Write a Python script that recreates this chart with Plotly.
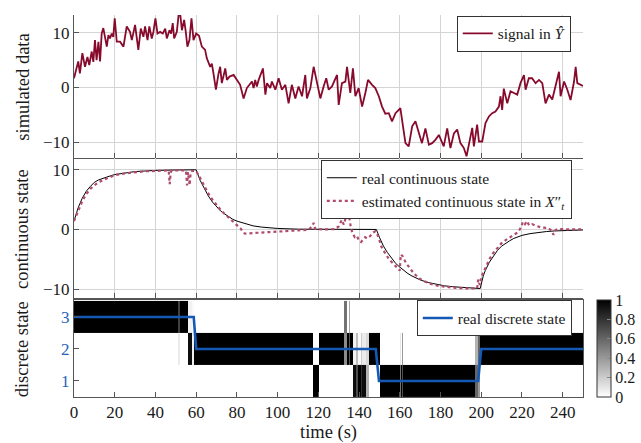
import plotly.graph_objects as go

# ---------------- data ----------------
signal_t = [0, 1.3, 2.1, 2.9, 4.1, 5.4, 6.6, 7.5, 8.7, 9.5, 10.3, 11.1, 12.0, 12.8, 13.6, 14.4, 15.2, 16.1,
            16.9, 17.7, 18.5, 19.3, 20.0, 21.0, 22.6, 24.3, 25.9, 27.5, 28.4, 30.0, 31.6, 32.8, 34.1, 34.9,
            36.1, 37.0, 38.2, 39.0, 40.0, 41.0, 42.3, 43.6, 44.8, 45.6, 46.9, 47.7, 48.5, 49.2, 50.5, 51.8,
            53.0, 54.1, 54.9, 55.7, 56.7, 57.7, 58.7, 60.0, 61.4, 62.8, 64.4, 65.2, 66.9, 67.7, 68.5, 69.7,
            71.0, 71.8, 72.6, 74.3, 75.1, 76.4, 78.4, 80.0, 81.6, 83.3, 84.9, 87.4, 88.2, 89.0, 89.8, 90.7,
            92.8, 94.0, 94.8, 96.4, 97.2, 98.9, 100.5, 102.1, 103.8, 105.4, 107.0, 108.7, 110.3, 112.0, 113.6,
            114.4, 116.1, 117.7, 119.3, 121.0, 122.6, 123.9, 125.1, 126.7, 129.2, 130.0, 131.6, 133.3, 134.1,
            135.7, 137.0, 138.2, 139.8, 141.5, 143.1, 144.4, 146.4, 148.0, 149.7, 151.3, 152.9, 154.6, 156.2,
            157.9, 160.3, 161.1, 162.8, 164.4, 166.1, 167.7, 169.3, 170.9, 172.6, 174.3, 175.9, 177.5, 179.2,
            180.0, 181.6, 183.3, 184.9, 186.6, 188.2, 189.8, 191.5, 192.8, 194.0, 195.6, 196.4, 198.0, 198.9,
            200.5, 202.1, 203.8, 205.4, 207.0, 208.7, 209.5, 210.3, 211.1, 212.8, 214.4, 216.1, 217.7, 219.3,
            221.0, 221.8, 223.4, 225.0, 226.7, 228.4, 230.0, 231.6, 233.3, 234.9, 236.6, 238.2, 239.0, 240.7,
            242.3, 243.9, 245.6, 246.4, 247.2, 248.9, 250]
signal_y = [1.7, 3.8, 4.8, 2.6, 6.3, 3.8, 5.6, 4.1, 6.6, 4.7, 8.7, 5.0, 8.4, 4.8, 9.9, 10.9, 9.0, 7.5,
            9.6, 9.0, 9.9, 9.3, 12.7, 8.4, 8.4, 7.5, 11.2, 10.2, 8.7, 11.5, 6.9, 10.8, 9.3, 11.2,
            8.7, 11.2, 9.0, 10.2, 12.7, 9.9, 10.2, 9.9, 10.8, 9.0, 10.5, 9.9, 11.8, 9.0, 10.2, 14.8,
            10.5, 12.4, 10.2, 7.5, 8.7, 12.7, 8.7, 9.9, 9.5, 7.5, 6.9, 5.4, 3.8, 4.4, 2.6, -0.4,
            2.6, 3.8, 0.8, 3.5, 1.4, 2.0, 2.3, 1.4, 0.5, -2.0, -0.1, 1.1, -0.1, 1.4, 0.2, 1.4,
            3.5, -1.3, 0.8, -0.1, 1.1, -0.4, 1.7, -0.4, 0.5, -2.9, 0.5, -2.0, 0.2, -1.6, 2.3,
            -2.0, -0.1, 3.8, 0.8, -2.0, 0.2, 1.7, -0.4, 0.2, 2.3, -3.2, 0.8, 1.1, 3.8,
            -1.0, 3.5, -1.6, -0.1, -3.5, -1.0, 1.4, 0.5, -0.1, -1.6, -3.5, -4.8, -4.7, -6.2,
            -4.7, -3.8, -6.2, -10.2, -10.8, -7.1, -6.2, -8.4, -10.2, -7.5, -10.5, -10.2, -9.6, -8.7,
            -9.3, -10.8, -7.5, -11.1, -8.4, -7.7, -10.2, -11.1, -12.6, -10.2, -7.4, -10.8, -6.8, -9.9,
            -9.9, -6.5, -5.3, -4.7, -4.4, -3.5, -1.6, -4.1, -0.2, -2.9, -0.7, -1.0, -1.3, 0.8,
            2.3, -0.4, 1.7, 1.7, 0.8, 1.4, 0.8, -2.9, -1.3, -2.2, 0.2, 2.9, -1.6, 1.1,
            -0.4, -2.3, 1.1, 3.8, 0.8, 0.5, 0.3]

real_t = [0, 2, 4, 5, 6, 8, 10, 12, 15, 18, 20, 25, 30, 35, 40, 50, 60,
          62, 64, 66, 68, 70, 72, 74, 76, 78, 80, 84, 88, 92, 96, 100, 110, 120, 148.5,
          150, 152, 154, 156, 158, 160, 162, 164, 166, 168, 170, 174, 178, 182, 186, 190, 195, 199.5,
          201, 202, 204, 206, 208, 210, 212, 214, 216, 220, 224, 228, 232, 236, 240, 245, 250]
real_x = [1.4, 3.6, 5.2, 5.9, 6.4, 7.2, 7.9, 8.3, 8.7, 9.0, 9.2, 9.5, 9.7, 9.8, 9.9, 9.97, 10.0,
          8.2, 6.8, 5.6, 4.6, 3.8, 3.1, 2.6, 2.1, 1.7, 1.4, 0.95, 0.6, 0.4, 0.25, 0.17, 0.05, 0.02, 0.0,
          -1.3, -2.8, -3.9, -4.9, -5.7, -6.3, -6.9, -7.4, -7.8, -8.15, -8.45, -8.9, -9.2, -9.45, -9.6, -9.72, -9.82, -9.9,
          -7.8, -6.9, -5.5, -4.4, -3.5, -2.8, -2.3, -1.9, -1.5, -1.0, -0.7, -0.5, -0.35, -0.25, -0.18, -0.12, -0.08]

est_t = [0, 2, 4, 6, 8, 10, 12, 15, 18, 20, 25, 30, 35, 40, 45, 46.5, 47, 47.5, 48, 55, 55.5, 56,
         56.8, 57.3, 58, 60, 62, 64, 66, 68, 70, 72, 74, 76, 78, 80, 82, 83, 84, 86, 90, 95, 100,
         105, 110, 115, 117, 117.7, 118.5, 122, 128, 130, 131.5, 132.5, 133.5, 134.5, 135.3, 136, 137,
         138, 139, 140, 141, 142, 143, 144, 145.5, 146.5, 148, 149.5, 151, 153, 155, 157, 159, 160,
         160.5, 161.5, 163, 165, 167, 170, 174, 178, 182, 186, 190, 195, 198, 198.5, 199.3, 200, 202,
         204, 206, 208, 210, 212, 214, 216, 218, 219.5, 220.5, 221.5, 222.5, 223.5, 225, 227, 230,
         233, 234.5, 235.5, 236.5, 238, 242, 250]
est_x = [1.4, 3.2, 4.7, 5.9, 6.8, 7.4, 7.9, 8.4, 8.9, 9.1, 9.4, 9.6, 9.75, 9.8, 9.9, 9.9, 7.6, 9.5,
         9.9, 9.9, 7.4, 9.6, 7.4, 9.6, 9.8, 9.8, 8.6, 7.2, 6.0, 5.0, 4.1, 3.3, 2.6, 2.0, 1.4, 0.8, 0.1,
         -0.5, -0.7, -0.65, -0.55, -0.5, -0.35, -0.25, -0.15, -0.05, 0.5, 1.1, 0.1, 0.0, 0.05, 0.5, 1.6,
         0.8, 2.0, 2.6, 1.8, 0.3, -0.8, -1.3, -1.1, -1.9, -2.1, -1.7, -1.3, -1.5, -1.1, -0.6, -0.3, -1.2,
         -2.9, -4.1, -5.1, -5.8, -6.5, -6.9, -4.2, -4.5, -5.6, -6.6, -7.4, -8.3, -9.0, -9.4, -9.6, -9.75,
         -9.85, -9.9, -9.9, -8.4, -9.3, -8.0, -6.4, -5.0, -3.9, -3.0, -2.3, -1.8, -1.3, -0.9, -0.5, 0.3,
         1.3, 0.9, 1.4, 0.7, 0.9, 0.6, 0.3, 0.25, -0.2, -0.9, -0.1, 0.1, 0.0, 0.0]

disc_t = [0, 58.8, 60, 148.2, 149.8, 198.5, 200, 250]
disc_state = [3, 3, 2, 2, 1, 1, 2, 2]

heat_edges = [0, 51.2, 52.0, 56.0, 57.8, 58.7, 117.6, 120.2, 132.8, 134.0, 135.0, 135.6, 137.2, 138.5,
              139.3, 140.8, 141.6, 143.2, 144.8, 150.3, 159.9, 160.4, 160.9, 161.4, 196.8, 198.2, 199.6, 250]
prob_state1 = [0, 0, 0, 0, 0, 0, 1, 0, 0, 0, 0, 0, 0.95, 0.7, 1, 0.8, 0.95, 0.3, 0, 1, 0.55, 1, 0.7, 1,
               0.6, 0.4, 0]
prob_state2 = [0, 0.08, 0, 0.95, 0.06, 1, 0, 1, 0.45, 1, 0.65, 1, 0.05, 0.25, 0.02, 0.2, 0.08, 0.15, 1,
               0, 0.1, 0, 0.4, 0, 0.3, 0.6, 1]
prob_state3 = [1, 0.75, 1, 0.05, 0.02, 0, 0, 0, 0.55, 0, 0.35, 0, 0, 0, 0, 0, 0, 0, 0, 0, 0, 0, 0, 0,
               0, 0, 0]
state_ticks = [1, 2, 3]
cbar_ticks = [0, 0.2, 0.4, 0.6, 0.8, 1]

# ---------------- styles ----------------
FONT = "Liberation Serif"
TXT = "#1a1a1a"
AX = "#555555"
GRID = "#d4d4d4"
RED = "#870a2c"
PINK = "#b04a6e"
BLUE = "#1459b5"

fig = go.Figure()

fig.add_trace(go.Heatmap(
    x=heat_edges, y=state_ticks, z=[prob_state1, prob_state2, prob_state3],
    zmin=0, zmax=1, colorscale=[[0, "#ffffff"], [1, "#000000"]],
    xaxis="x3", yaxis="y3", showscale=True, hoverinfo="skip",
    colorbar=dict(x=1.028, xanchor="left", y=0, yanchor="bottom", len=0.254, lenmode="fraction",
                  thickness=14, outlinewidth=1, outlinecolor="#333333", tickvals=cbar_ticks,
                  ticktext=["0", "0.2", "0.4", "0.6", "0.8", "1"], ticks="inside", ticklen=4,
                  tickcolor="#888888", tickfont=dict(family=FONT, size=16, color=TXT), xpad=0, ypad=0),
))

fig.add_trace(go.Scatter(x=signal_t, y=signal_y, mode="lines", line=dict(color=RED, width=1.8),
                         name="signal in <i>Ŷ</i>", xaxis="x", yaxis="y", legend="legend"))
fig.add_trace(go.Scatter(x=real_t, y=real_x, mode="lines", line=dict(color="black", width=1),
                         name="real continuous state", xaxis="x2", yaxis="y2", legend="legend2"))
fig.add_trace(go.Scatter(x=est_t, y=est_x, mode="lines", line=dict(color=PINK, width=2.2, dash="dot"),
                         name="estimated continuous state in <i>X</i>″<sub><i>t</i></sub>",
                         xaxis="x2", yaxis="y2", legend="legend2"))
fig.add_trace(go.Scatter(x=disc_t, y=disc_state, mode="lines", line=dict(color=BLUE, width=2.6),
                         name="real discrete state", xaxis="x3", yaxis="y3", legend="legend3"))

xcommon = dict(range=[0, 250], tickvals=list(range(0, 260, 20)), ticks="inside", ticklen=5,
               tickcolor=AX, showline=True, linecolor=AX, linewidth=1, zeroline=False, automargin=False,
               tickfont=dict(family=FONT, size=17, color=TXT))
ycommon = dict(ticks="inside", ticklen=5, tickcolor=AX, showline=True, linecolor=AX, linewidth=1,
               zeroline=False, automargin=False, tickfont=dict(family=FONT, size=17, color=TXT))

legcommon = dict(bgcolor="white", bordercolor="#333333", borderwidth=1, xanchor="right", yanchor="top",
                 font=dict(family=FONT, size=15.5, color=TXT), itemwidth=30, tracegroupgap=0)

fig.update_layout(
    template="none",
    width=641, height=443,
    margin=dict(l=74, r=58, t=15, b=46, autoexpand=False),
    paper_bgcolor="white", plot_bgcolor="white",
    font=dict(family=FONT, color=TXT),
    xaxis=dict(**xcommon, anchor="y", showticklabels=False, showgrid=True, gridcolor=GRID, gridwidth=1),
    xaxis2=dict(**xcommon, anchor="y2", showticklabels=False, showgrid=True, gridcolor=GRID, gridwidth=1,
                matches="x"),
    xaxis3=dict(**xcommon, anchor="y3", showticklabels=True, showgrid=False, mirror=True, matches="x"),
    yaxis=dict(**ycommon, domain=[0.626, 1.0], range=[-12.9, 13.3], tickvals=[-10, 0, 10],
               showgrid=True, gridcolor=GRID, anchor="x"),
    yaxis2=dict(**ycommon, domain=[0.259, 0.626], range=[-11.5, 12.0], tickvals=[-10, 0, 10],
                showgrid=True, gridcolor=GRID, anchor="x2"),
    yaxis3=dict(ticks="inside", ticklen=5, tickcolor=AX, showline=True, linecolor=AX, linewidth=1,
                zeroline=False, automargin=False, mirror=True, domain=[0, 0.254], range=[0.5, 3.53],
                tickvals=state_ticks, showgrid=False, anchor="x3",
                tickfont=dict(family=FONT, size=17, color="#1f63bd")),
    legend=dict(**legcommon, x=0.976, y=0.998),
    legend2=dict(**legcommon, x=0.978, y=0.62),
    legend3=dict(**legcommon, x=0.978, y=0.253),
    showlegend=True,
)

for txt, yc in [("simulated data", 0.81), ("continuous state", 0.44), ("discrete state", 0.125)]:
    fig.add_annotation(text=txt, xref="paper", yref="paper", x=-0.102, y=yc, textangle=-90,
                       showarrow=False, xanchor="center", yanchor="middle",
                       font=dict(family=FONT, size=18.5, color=TXT))
fig.add_annotation(text="time (s)", xref="paper", yref="paper", x=0.5, y=-0.092, showarrow=False,
                   xanchor="center", yanchor="middle", font=dict(family=FONT, size=18.5, color=TXT))

fig.write_html("out.html", config={"displayModeBar": False},
               post_script="document.body.style.margin='0px';document.body.style.padding='0px';")
